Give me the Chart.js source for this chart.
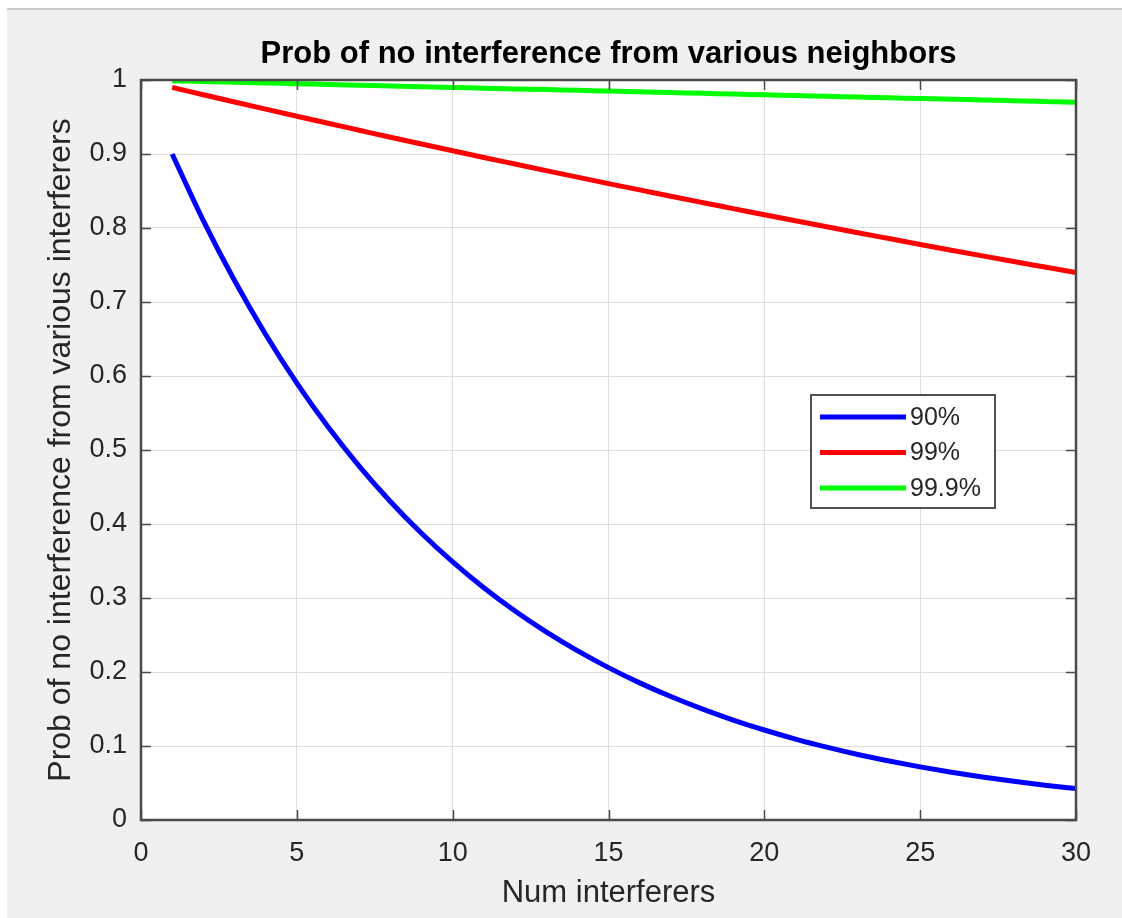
<!DOCTYPE html>
<html>
<head>
<meta charset="utf-8">
<script src="https://cdn.jsdelivr.net/npm/chart.js@4/dist/chart.umd.min.js"></script>
<style>
    html, body { margin: 0; padding: 0; background: #ffffff; }
    #fig {
        position: absolute; left: 7px; top: 8px; right: 0; bottom: 0;
        background: #f0f0f0; border-top: 2px solid #c9c9c9;
    }
    #probChart { position: absolute; left: 0; top: 0; }
</style>
</head>
<body>
<div id="fig"></div>
<canvas id="probChart" width="1122" height="918"></canvas>
<script>
//..values
const interferers = [1, 2, 3, 4, 5, 6, 7, 8, 9, 10, 11, 12, 13, 14, 15,
    16, 17, 18, 19, 20, 21, 22, 23, 24, 25, 26, 27, 28, 29, 30];
const p90 = [0.9, 0.81, 0.729, 0.6561, 0.5905, 0.5314, 0.4783, 0.4305, 0.3874, 0.3487,
    0.3138, 0.2824, 0.2542, 0.2288, 0.2059, 0.1853, 0.1668, 0.1501, 0.1351, 0.1216,
    0.1094, 0.0985, 0.0886, 0.0798, 0.0718, 0.0646, 0.0581, 0.0523, 0.0471, 0.0424];
const p99 = [0.99, 0.9801, 0.9703, 0.9606, 0.951, 0.9415, 0.9321, 0.9227, 0.9135, 0.9044,
    0.8953, 0.8864, 0.8775, 0.8687, 0.86, 0.8515, 0.8429, 0.8345, 0.8262, 0.8179,
    0.8097, 0.8016, 0.7936, 0.7857, 0.7778, 0.77, 0.7623, 0.7547, 0.7472, 0.7397];
const p999 = [0.999, 0.998, 0.997, 0.996, 0.995, 0.994, 0.993, 0.992, 0.991, 0.990,
    0.989, 0.988, 0.987, 0.986, 0.985, 0.984, 0.983, 0.982, 0.981, 0.980,
    0.979, 0.978, 0.977, 0.976, 0.975, 0.974, 0.973, 0.972, 0.971, 0.970];
const seriesLabels = ["90%", "99%", "99.9%"];
const seriesColors = ["#0000ff", "#ff0000", "#00ff00"];
const chartTitle = 'Prob of no interference from various neighbors';

const FONT = "'Liberation Sans', Arial, Helvetica, sans-serif";
const TEXT = "#262626";
const AXIS = "#4a4a4a";

function toPoints(values) {
    return values.map((v, i) => ({ x: interferers[i], y: v }));
}

//..matlab style axes: white plot area, box, inward ticks, legend, title
const matlabBox = {
    id: 'matlabBox',
    beforeDraw(chart) {
        const { ctx, chartArea: a } = chart;
        ctx.save();
        ctx.fillStyle = "#ffffff";
        ctx.fillRect(a.left, a.top, a.right - a.left, a.bottom - a.top);
        ctx.restore();
    },
    afterDatasetsDraw(chart) {
        const { ctx, chartArea: a, scales } = chart;
        const len = 10;
        ctx.save();
        ctx.strokeStyle = AXIS;
        ctx.lineWidth = 1.5;
        ctx.beginPath();
        scales.x.ticks.forEach(t => {
            const px = Math.round(scales.x.getPixelForValue(t.value)) + 0.5;
            ctx.moveTo(px, a.bottom); ctx.lineTo(px, a.bottom - len);
            ctx.moveTo(px, a.top); ctx.lineTo(px, a.top + len);
        });
        scales.y.ticks.forEach(t => {
            const py = Math.round(scales.y.getPixelForValue(t.value)) + 0.5;
            ctx.moveTo(a.left, py); ctx.lineTo(a.left + len, py);
            ctx.moveTo(a.right, py); ctx.lineTo(a.right - len, py);
        });
        ctx.stroke();
        ctx.lineWidth = 2.5;
        ctx.strokeRect(a.left, a.top, a.right - a.left, a.bottom - a.top);

        //..title centred over the axes
        ctx.fillStyle = "#000000";
        ctx.font = `bold 31px ${FONT}`;
        ctx.textAlign = 'center';
        ctx.textBaseline = 'middle';
        ctx.fillText(chartTitle, (a.left + a.right) / 2, 54);

        //..legend
        const lx = 811, ly = 395, lw = 184, lh = 113;
        ctx.fillStyle = "#ffffff";
        ctx.fillRect(lx, ly, lw, lh);
        ctx.lineWidth = 2;
        ctx.strokeStyle = "#505050";
        ctx.strokeRect(lx, ly, lw, lh);
        ctx.font = `25px ${FONT}`;
        ctx.textBaseline = 'middle';
        ctx.textAlign = 'left';
        chart.data.datasets.forEach((ds, i) => {
            const y = 417 + i * 35.5;
            ctx.strokeStyle = ds.borderColor;
            ctx.lineWidth = 5;
            ctx.beginPath();
            ctx.moveTo(820, y); ctx.lineTo(906, y);
            ctx.stroke();
            ctx.fillStyle = TEXT;
            ctx.fillText(ds.label, 910, y + 1);
        });
        ctx.restore();
    }
};

new Chart(document.getElementById('probChart'), {
    type: 'line',
    data: {
        datasets: [p90, p99, p999].map((vals, i) => ({
            label: seriesLabels[i],
            data: toPoints(vals),
            borderColor: seriesColors[i],
            backgroundColor: seriesColors[i],
            borderWidth: 5,
            pointRadius: 0,
            cubicInterpolationMode: 'monotone',
            fill: false
        }))
    },
    options: {
        responsive: false,
        animation: false,
        layout: { padding: { left: 0, right: 46, top: 80, bottom: 0 } },
        plugins: {
            legend: { display: false },
            tooltip: { enabled: false },
            title: { display: false }
        },
        scales: {
            x: {
                type: 'linear',
                min: 0,
                max: 30,
                afterFit(scale) { scale.height = 98; },
                grid: { color: "#dedede", lineWidth: 1, drawTicks: false },
                border: { display: false },
                ticks: {
                    stepSize: 5,
                    padding: 17,
                    color: TEXT,
                    font: { family: FONT, size: 27 }
                },
                title: {
                    display: true,
                    text: 'Num interferers',
                    color: TEXT,
                    font: { family: FONT, size: 31, lineHeight: 1.2 },
                    padding: { top: 0, bottom: 6 }
                }
            },
            y: {
                min: 0,
                max: 1,
                afterFit(scale) { scale.width = 141; },
                grid: { color: "#dedede", lineWidth: 1, drawTicks: false },
                border: { display: false },
                ticks: {
                    stepSize: 0.1,
                    padding: 14,
                    color: TEXT,
                    font: { family: FONT, size: 27 },
                    callback: v => String(+v.toFixed(1))
                },
                title: {
                    display: true,
                    text: 'Prob of no interference from various interferers',
                    color: TEXT,
                    font: { family: FONT, size: 32, lineHeight: 1.2 },
                    padding: { top: 42, bottom: 0 }
                }
            }
        }
    },
    plugins: [matlabBox]
});
</script>
</body>
</html>
